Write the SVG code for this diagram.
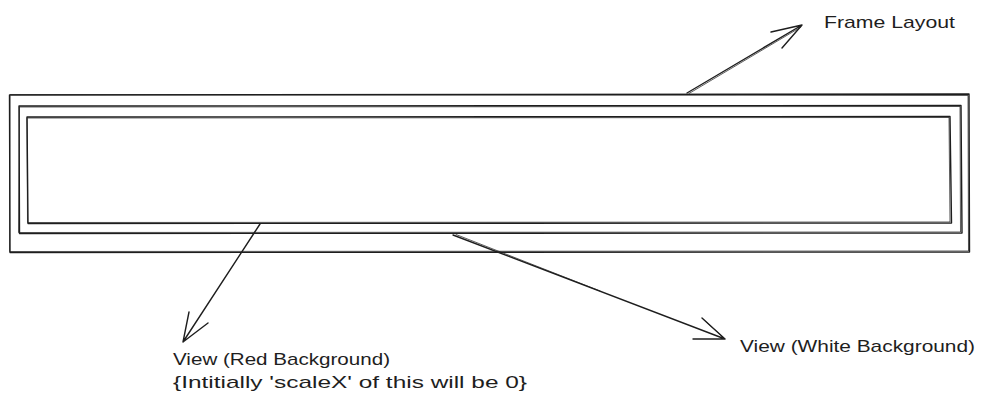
<svg xmlns="http://www.w3.org/2000/svg" width="985" height="407" viewBox="0 0 985 407">
  <style>
    .s { fill: none; stroke: #1e1e1e; stroke-width: 1.4; stroke-linecap: round; stroke-linejoin: round; }
    .s2 { fill: none; stroke: #1e1e1e; stroke-width: 0.9; stroke-linecap: round; opacity: 0.8; }
    .t { font-family: "Liberation Sans", Arial, sans-serif; font-size: 17px; fill: #1e1e1e; }
  </style>
  <rect width="985" height="407" fill="#ffffff"/>
  <g id="frame-layout">
    <path class="s" d="M9.5 95 L969 94 L969.5 252 L10 252.5 Z"/>
    <path class="s2" d="M10.5 94.5 L968 95.5 L968.5 251 L9.5 251.5 L10 96"/>
  </g>
  <g id="view-white">
    <path class="s" d="M19 106 L961 105.5 L962 233 L19.5 233.5 Z"/>
    <path class="s2" d="M20 107 L960 106.5 L960.5 232 L18.5 232.5 L19.5 107"/>
  </g>
  <g id="view-red">
    <path class="s" d="M27 117 L950 116.5 L951.5 223 L28 223.5 Z"/>
    <path class="s2" d="M28 118 L949 117.5 L950 222 L27.5 222.5 L27 118"/>
  </g>
  <g id="connectors">
    <path class="s" d="M687 93 L802 25 M771 32 L802 25 L782 48"/>
    <path class="s2" d="M689 93.5 L801 27"/>
    <path class="s" d="M260 224 L183 342 M189 312 L183 342 L208 323"/>
    <path class="s" d="M453 235 L725 339 M702 318 L725 339 L693 339"/>
    <path class="s2" d="M456 234.5 L600 291 M704 320 L724 338"/>
  </g>
  <g id="labels">
    <text class="t" x="824" y="28" textLength="131" lengthAdjust="spacingAndGlyphs">Frame Layout</text>
    <text class="t" x="173" y="365" textLength="217" lengthAdjust="spacingAndGlyphs">View (Red Background)</text>
    <text class="t" x="173" y="388" textLength="354" lengthAdjust="spacingAndGlyphs">{Intitially 'scaleX' of this will be 0}</text>
    <text class="t" x="740" y="352" textLength="235" lengthAdjust="spacingAndGlyphs">View (White Background)</text>
  </g>
</svg>
